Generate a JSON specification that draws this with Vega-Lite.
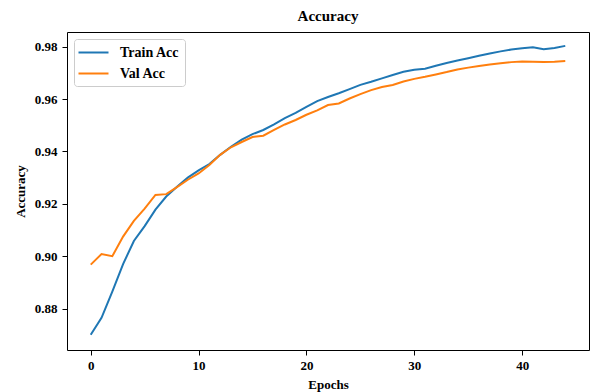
{
  "$schema": "https://vega.github.io/schema/vega-lite/v6.json",
  "autosize": {"type": "none"},
  "width": 522,
  "height": 318,
  "padding": {"left": 67, "top": 32, "right": 3, "bottom": 42},
  "background": "white",
  "title": {"text": "Accuracy", "font": "Liberation Serif", "fontSize": 15, "fontWeight": "bold", "color": "#000000", "offset": 8, "anchor": "middle"},
  "config": {
    "view": {"stroke": "#000000", "strokeWidth": 1},
    "axis": {"domain": false, "grid": false, "labelFont": "Liberation Serif", "labelFontSize": 13, "labelFontWeight": "bold", "labelColor": "#000000", "titleFont": "Liberation Serif", "titleFontSize": 13, "titleFontWeight": "bold", "titleColor": "#000000", "tickColor": "#000000", "tickSize": 5, "labelPadding": 4}
  },
  "data": {"values": [
    {"epoch":0,"series":"Train Acc","acc":0.8700},{"epoch":1,"series":"Train Acc","acc":0.8765},{"epoch":2,"series":"Train Acc","acc":0.8865},{"epoch":3,"series":"Train Acc","acc":0.8970},{"epoch":4,"series":"Train Acc","acc":0.9058},{"epoch":5,"series":"Train Acc","acc":0.9115},{"epoch":6,"series":"Train Acc","acc":0.9178},{"epoch":7,"series":"Train Acc","acc":0.9228},{"epoch":8,"series":"Train Acc","acc":0.9265},{"epoch":9,"series":"Train Acc","acc":0.9300},{"epoch":10,"series":"Train Acc","acc":0.9328},{"epoch":11,"series":"Train Acc","acc":0.9352},{"epoch":12,"series":"Train Acc","acc":0.9387},{"epoch":13,"series":"Train Acc","acc":0.9418},{"epoch":14,"series":"Train Acc","acc":0.9445},{"epoch":15,"series":"Train Acc","acc":0.9466},{"epoch":16,"series":"Train Acc","acc":0.9482},{"epoch":17,"series":"Train Acc","acc":0.9503},{"epoch":18,"series":"Train Acc","acc":0.9527},{"epoch":19,"series":"Train Acc","acc":0.9547},{"epoch":20,"series":"Train Acc","acc":0.9570},{"epoch":21,"series":"Train Acc","acc":0.9592},{"epoch":22,"series":"Train Acc","acc":0.9608},{"epoch":23,"series":"Train Acc","acc":0.9622},{"epoch":24,"series":"Train Acc","acc":0.9638},{"epoch":25,"series":"Train Acc","acc":0.9654},{"epoch":26,"series":"Train Acc","acc":0.9666},{"epoch":27,"series":"Train Acc","acc":0.9679},{"epoch":28,"series":"Train Acc","acc":0.9692},{"epoch":29,"series":"Train Acc","acc":0.9704},{"epoch":30,"series":"Train Acc","acc":0.9712},{"epoch":31,"series":"Train Acc","acc":0.9716},{"epoch":32,"series":"Train Acc","acc":0.9727},{"epoch":33,"series":"Train Acc","acc":0.9738},{"epoch":34,"series":"Train Acc","acc":0.9747},{"epoch":35,"series":"Train Acc","acc":0.9756},{"epoch":36,"series":"Train Acc","acc":0.9765},{"epoch":37,"series":"Train Acc","acc":0.9774},{"epoch":38,"series":"Train Acc","acc":0.9782},{"epoch":39,"series":"Train Acc","acc":0.9789},{"epoch":40,"series":"Train Acc","acc":0.9794},{"epoch":41,"series":"Train Acc","acc":0.9798},{"epoch":42,"series":"Train Acc","acc":0.9790},{"epoch":43,"series":"Train Acc","acc":0.9795},{"epoch":44,"series":"Train Acc","acc":0.9803},
    {"epoch":0,"series":"Val Acc","acc":0.8968},{"epoch":1,"series":"Val Acc","acc":0.9008},{"epoch":2,"series":"Val Acc","acc":0.9000},{"epoch":3,"series":"Val Acc","acc":0.9075},{"epoch":4,"series":"Val Acc","acc":0.9135},{"epoch":5,"series":"Val Acc","acc":0.9182},{"epoch":6,"series":"Val Acc","acc":0.9234},{"epoch":7,"series":"Val Acc","acc":0.9237},{"epoch":8,"series":"Val Acc","acc":0.9264},{"epoch":9,"series":"Val Acc","acc":0.9292},{"epoch":10,"series":"Val Acc","acc":0.9316},{"epoch":11,"series":"Val Acc","acc":0.9348},{"epoch":12,"series":"Val Acc","acc":0.9387},{"epoch":13,"series":"Val Acc","acc":0.9416},{"epoch":14,"series":"Val Acc","acc":0.9436},{"epoch":15,"series":"Val Acc","acc":0.9455},{"epoch":16,"series":"Val Acc","acc":0.9460},{"epoch":17,"series":"Val Acc","acc":0.9482},{"epoch":18,"series":"Val Acc","acc":0.9503},{"epoch":19,"series":"Val Acc","acc":0.9520},{"epoch":20,"series":"Val Acc","acc":0.9540},{"epoch":21,"series":"Val Acc","acc":0.9557},{"epoch":22,"series":"Val Acc","acc":0.9577},{"epoch":23,"series":"Val Acc","acc":0.9583},{"epoch":24,"series":"Val Acc","acc":0.9602},{"epoch":25,"series":"Val Acc","acc":0.9619},{"epoch":26,"series":"Val Acc","acc":0.9634},{"epoch":27,"series":"Val Acc","acc":0.9646},{"epoch":28,"series":"Val Acc","acc":0.9654},{"epoch":29,"series":"Val Acc","acc":0.9667},{"epoch":30,"series":"Val Acc","acc":0.9677},{"epoch":31,"series":"Val Acc","acc":0.9685},{"epoch":32,"series":"Val Acc","acc":0.9694},{"epoch":33,"series":"Val Acc","acc":0.9703},{"epoch":34,"series":"Val Acc","acc":0.9713},{"epoch":35,"series":"Val Acc","acc":0.9720},{"epoch":36,"series":"Val Acc","acc":0.9726},{"epoch":37,"series":"Val Acc","acc":0.9732},{"epoch":38,"series":"Val Acc","acc":0.9737},{"epoch":39,"series":"Val Acc","acc":0.9741},{"epoch":40,"series":"Val Acc","acc":0.9743},{"epoch":41,"series":"Val Acc","acc":0.9742},{"epoch":42,"series":"Val Acc","acc":0.9741},{"epoch":43,"series":"Val Acc","acc":0.9742},{"epoch":44,"series":"Val Acc","acc":0.9745}
  ]},
  "mark": {"type": "line", "strokeWidth": 2, "interpolate": "linear"},
  "encoding": {
    "x": {"field": "epoch", "type": "quantitative", "title": "Epochs",
      "scale": {"domain": [-2.2, 46.2], "nice": false, "zero": false},
      "axis": {"values": [0, 10, 20, 30, 40], "format": "d", "titlePadding": 6}},
    "y": {"field": "acc", "type": "quantitative", "title": "Accuracy",
      "scale": {"domain": [0.8642, 0.9856], "nice": false, "zero": false},
      "axis": {"values": [0.88, 0.90, 0.92, 0.94, 0.96, 0.98], "format": ".2f", "labelPadding": 5, "titlePadding": 7}},
    "color": {"field": "series", "type": "nominal",
      "scale": {"domain": ["Train Acc", "Val Acc"], "range": ["#1f77b4", "#ff7f0e"]},
      "legend": {"title": null, "orient": "top-left", "offset": 7, "symbolType": "M-2,0H2", "symbolSize": 225, "symbolStrokeWidth": 2, "symbolOffset": 6,
        "labelFont": "Liberation Serif", "labelFontSize": 14, "labelFontWeight": "bold", "labelColor": "#000000", "labelOffset": 18,
        "rowPadding": 5, "padding": 5, "strokeColor": "#cccccc", "fillColor": "white", "cornerRadius": 3}}
  }
}
